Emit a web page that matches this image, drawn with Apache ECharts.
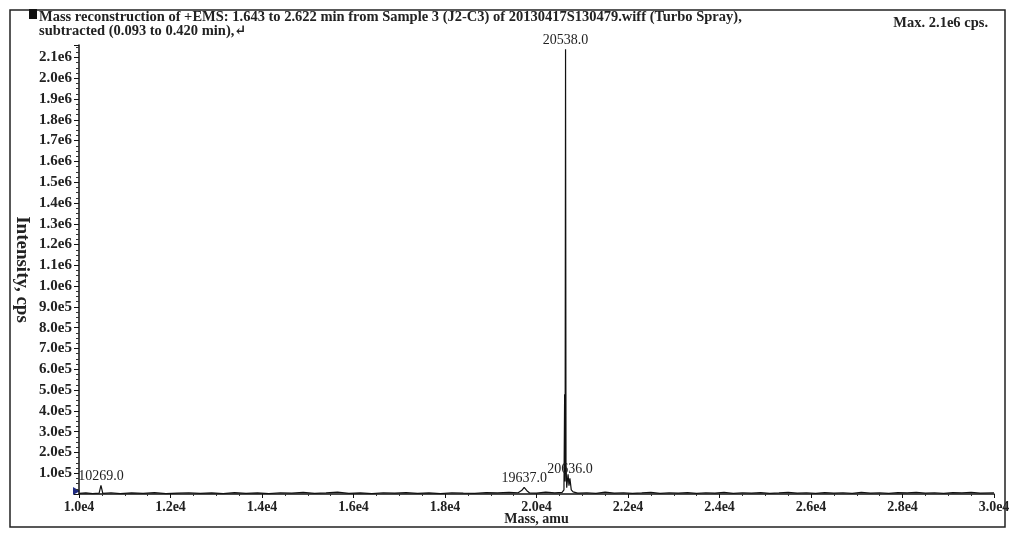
<!DOCTYPE html>
<html>
<head>
<meta charset="utf-8">
<script src="https://cdn.jsdelivr.net/npm/echarts@6/dist/echarts.min.js"></script>
<style>
  html, body { margin: 0; padding: 0; background: #fff; }
  #chart { width: 1024px; height: 538px; }
</style>
</head>
<body>
<div id="chart"></div>
<script>
// spectrum points: [mass (amu), intensity (cps)]
const spectrumPoints = [
  [10000, 3000], [10150, 5000], [10300, 2000], [10440, 4000], [10480, 42000], [10520, 3000],
  [10700, 6000], [10900, 2000], [11150, 5000], [11400, 3000], [11650, 7000], [11900, 2000],
  [12150, 4000], [12400, 6000], [12650, 3000], [12900, 5000], [13150, 2000], [13400, 7000],
  [13650, 3000], [13900, 5000], [14150, 2000], [14400, 6000], [14650, 4000], [14900, 8000],
  [15150, 3000], [15400, 5000], [15650, 9000], [15900, 3000], [16150, 5000], [16400, 2000],
  [16650, 6000], [16900, 4000], [17150, 7000], [17400, 3000], [17650, 5000], [17900, 2000],
  [18150, 6000], [18400, 4000], [18650, 3000], [18900, 7000], [19150, 5000], [19400, 8000],
  [19600, 6000], [19680, 18000], [19730, 32000], [19790, 16000], [19850, 5000], [20000, 4000],
  [20200, 9000], [20400, 5000], [20560, 8000], [20600, 20000], [20615, 480000], [20625, 60000],
  [20635, 2140000], [20645, 150000], [20660, 30000], [20690, 95000], [20710, 40000], [20730, 75000],
  [20760, 20000], [20800, 10000], [20900, 4000], [21100, 6000], [21300, 3000], [21500, 9000],
  [21700, 4000], [21900, 6000], [22100, 3000], [22300, 5000], [22500, 8000], [22700, 3000],
  [22900, 6000], [23100, 4000], [23300, 7000], [23500, 3000], [23700, 6000], [23900, 4000],
  [24100, 8000], [24300, 3000], [24500, 6000], [24700, 4000], [24900, 7000], [25100, 3000],
  [25300, 5000], [25500, 8000], [25700, 4000], [25900, 6000], [26100, 3000], [26300, 7000],
  [26500, 4000], [26700, 6000], [26900, 3000], [27100, 8000], [27300, 4000], [27500, 6000],
  [27700, 3000], [27900, 7000], [28100, 5000], [28300, 8000], [28500, 4000], [28700, 6000],
  [28900, 3000], [29100, 7000], [29300, 5000], [29500, 8000], [29700, 4000], [30000, 6000]
];

// annotated peaks: the mass where the label sits and the label text
const peakMasses = [10480, 19730, 20635, 20730];
const peakLabels = ['10269.0', '19637.0', '20538.0', '20636.0'];

const xTickInterval = 2000;
const yTickInterval = 100000;

const titleLines = [
  'Mass reconstruction of +EMS: 1.643 to 2.622 min from Sample 3 (J2-C3) of 20130417S130479.wiff (Turbo Spray),',
  'subtracted (0.093 to 0.420 min),\u21B5'
];
const maxText = 'Max. 2.1e6 cps.';

const serif = '"Liberation Serif", "DejaVu Serif", serif';

function sciLabel(v) {
  if (v === 0) return '';
  return v.toExponential(1).replace('e+', 'e');
}

// label markers at the annotated peaks
const peakMarks = peakMasses.map((m, i) => {
  const p = spectrumPoints.find(q => q[0] === m);
  return { coord: [p[0], p[1]], value: peakLabels[i] };
});

const chart = echarts.init(document.getElementById('chart'));
chart.setOption({
  animation: false,
  backgroundColor: '#fff',
  grid: { left: 79, right: 30, top: 45, bottom: 44 },
  xAxis: {
    type: 'value',
    min: 10000,
    max: 30000,
    interval: xTickInterval,
    name: 'Mass, amu',
    nameLocation: 'middle',
    nameGap: 18,
    nameMoveOverlap: false,
    nameTextStyle: { fontFamily: serif, fontSize: 14, fontWeight: 'bold', color: '#222' },
    axisLine: { lineStyle: { color: '#111', width: 1.5 } },
    axisTick: { length: 4, lineStyle: { color: '#111' } },
    minorTick: { show: true, splitNumber: 4, length: 2, lineStyle: { color: '#333' } },
    axisLabel: { formatter: sciLabel, fontFamily: serif, fontSize: 14, fontWeight: 'bold', color: '#222', margin: 6 },
    splitLine: { show: false }
  },
  yAxis: {
    type: 'value',
    min: 0,
    max: 2160000,
    interval: yTickInterval,
    name: 'Intensity, cps',
    nameLocation: 'middle',
    nameRotate: -90,
    nameGap: 48,
    nameMoveOverlap: false,
    nameTextStyle: { fontFamily: serif, fontSize: 19, fontWeight: 'bold', color: '#222' },
    axisLine: { show: true, lineStyle: { color: '#111', width: 1.5 } },
    axisTick: { length: 5, lineStyle: { color: '#111' } },
    minorTick: { show: true, splitNumber: 4, length: 3, lineStyle: { color: '#333' } },
    axisLabel: { formatter: sciLabel, fontFamily: serif, fontSize: 15, fontWeight: 'bold', color: '#222', margin: 7, showMaxLabel: false },
    splitLine: { show: false }
  },
  graphic: [
    { type: 'rect', shape: { x: 10, y: 10, width: 995, height: 517 }, style: { fill: 'none', stroke: '#222', lineWidth: 1.5 } },
    { type: 'rect', shape: { x: 29, y: 9, width: 8, height: 10 }, style: { fill: '#111' } },
    { type: 'text', left: 39, top: 10, style: { text: titleLines.join('\n'), font: 'bold 14.5px ' + serif, fill: '#222', lineHeight: 14 } },
    { type: 'text', right: 36, top: 16, style: { text: maxText, font: 'bold 14.5px ' + serif, fill: '#222' } },
    { type: 'polygon', shape: { points: [[73, 487], [80, 491], [73, 495]] }, style: { fill: '#1f2a80' } }
  ],
  series: [{
    type: 'line',
    data: spectrumPoints,
    showSymbol: false,
    symbol: 'none',
    lineStyle: { color: '#111', width: 1.2 },
    markPoint: {
      symbol: 'circle',
      symbolSize: 0,
      label: {
        show: true,
        position: 'top',
        distance: 2,
        formatter: p => p.value,
        fontFamily: serif,
        fontSize: 14,
        color: '#222'
      },
      data: peakMarks
    }
  }]
});
</script>
</body>
</html>
